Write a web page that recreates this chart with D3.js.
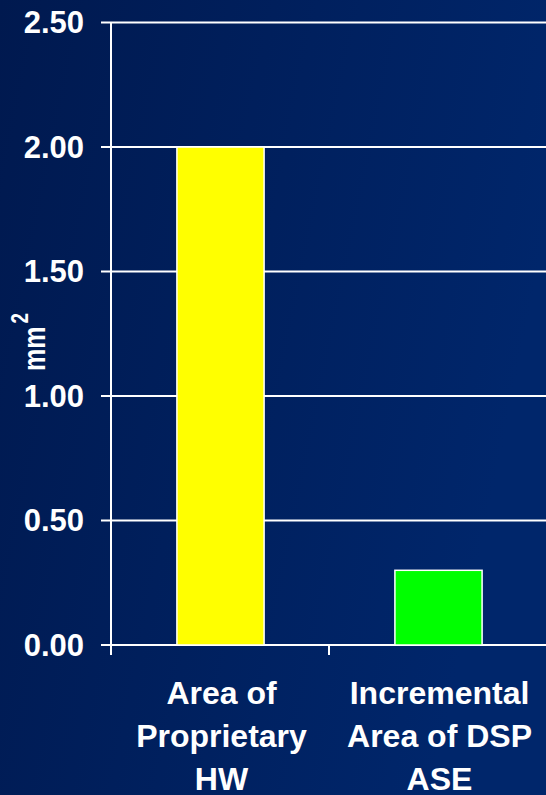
<!DOCTYPE html>
<html>
<head>
<meta charset="utf-8">
<script src="https://cdn.jsdelivr.net/npm/d3@7"></script>
<style>
html,body{margin:0;padding:0;background:#001c55;}
svg{display:block;}
text{font-family:"Liberation Sans",Arial,sans-serif;font-weight:bold;fill:#fff;}
</style>
</head>
<body>
<script>
const categories = [["Area of","Proprietary","HW"],["Incremental","Area of DSP","ASE"]];
const values = [2.0, 0.3];
const barColors = ["#ffff00", "#00ff00"];
const tickValues = [0, 0.5, 1.0, 1.5, 2.0, 2.5];
const tickLabels = ["0.00","0.50","1.00","1.50","2.00","2.50"];

const W = 546, H = 795;
const svg = d3.select("body").append("svg").attr("width", W).attr("height", H);

const defs = svg.append("defs");
const g = defs.append("linearGradient").attr("id","bg").attr("x1","0").attr("y1","0").attr("x2","1").attr("y2","0.3");
g.append("stop").attr("offset","0").attr("stop-color","#00194f");
g.append("stop").attr("offset","1").attr("stop-color","#00266b");
svg.append("rect").attr("width",W).attr("height",H).attr("fill","url(#bg)");

const x0 = 111, x1 = 547, yTop = 22.5, yBot = 645;
const x = d3.scaleBand().domain(d3.range(categories.length)).range([x0, x1]).padding(0);
const y = d3.scaleLinear().domain([0, 2.5]).range([yBot, yTop]);

// gridlines
svg.append("g").selectAll("line").data(tickValues).join("line")
  .attr("x1", 101).attr("x2", W)
  .attr("y1", d => y(d)).attr("y2", d => y(d))
  .attr("stroke", "#fff").attr("stroke-width", 2);

// y axis line
svg.append("line").attr("x1", x0).attr("x2", x0).attr("y1", y(2.5)).attr("y2", yBot + 10)
  .attr("stroke", "#fff").attr("stroke-width", 2);

// x ticks
svg.append("g").selectAll("line").data(d3.range(categories.length + 1)).join("line")
  .attr("x1", d => x0 + d * x.bandwidth()).attr("x2", d => x0 + d * x.bandwidth())
  .attr("y1", yBot).attr("y2", yBot + 10)
  .attr("stroke", "#fff").attr("stroke-width", 2);

// y tick labels
svg.append("g").selectAll("text").data(tickValues).join("text")
  .attr("x", 84).attr("y", d => y(d)).attr("dy", "0.35em")
  .attr("text-anchor", "end").attr("font-size", 31)
  .text((d, i) => tickLabels[i]);

// bars
const bw = x.bandwidth() * 0.4;
svg.append("g").selectAll("rect").data(values).join("rect")
  .attr("x", (d, i) => x(i) + x.bandwidth() / 2 - bw / 2 + 0.5)
  .attr("y", d => y(d))
  .attr("width", bw)
  .attr("height", d => y(0) - y(d))
  .attr("fill", (d, i) => barColors[i])
  .attr("stroke", "#fff").attr("stroke-width", 1.5);

// category labels
const cl = svg.append("g").selectAll("text").data(categories).join("text")
  .attr("text-anchor", "middle").attr("font-size", 32);
cl.each(function(d, i) {
  const t = d3.select(this);
  d.forEach((line, j) => {
    t.append("tspan").attr("x", x(i) + x.bandwidth() / 2 + 1.5).attr("y", 704 + j * 43).text(line);
  });
});

// y axis title
const yt = svg.append("text")
  .attr("transform", "translate(45,371) rotate(-90) scale(0.78,1)")
  .attr("font-size", 32).attr("text-anchor", "start");
yt.append("tspan").text("mm");
yt.append("tspan").attr("font-size", 24).attr("dy", -17).attr("dx", 4).text("2");
</script>
</body>
</html>
